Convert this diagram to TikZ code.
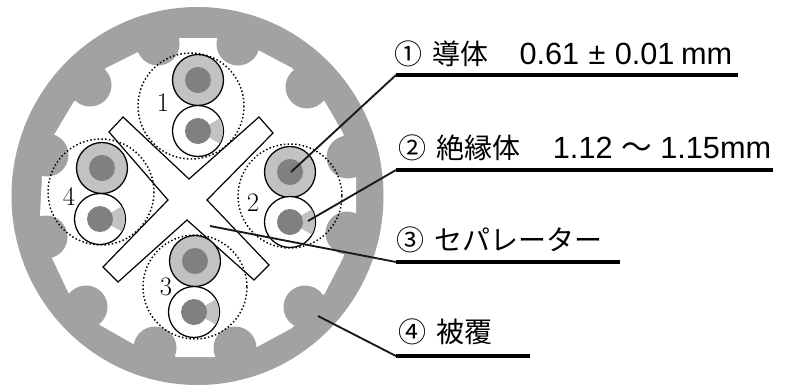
\documentclass[tikz,border=0pt]{standalone}
\usepackage{fontspec}
\newfontfamily\latin{Liberation Sans}
\newfontfamily\cjk{Noto Sans CJK JP}
\usepackage{tikz}
\usetikzlibrary{calc,positioning}

\definecolor{sheathgray}{HTML}{A2A2A2}
\definecolor{ringgray}{HTML}{C2C2C2}
\definecolor{coregray}{HTML}{808080}

\begin{document}
\begin{tikzpicture}[x=.75pt,y=-.75pt,
rim/.style = {draw=black, line width=.95pt},
pairline/.style = {draw=black, line width=1.1pt, dash pattern=on 1.1pt off 1.7pt},
line/.style = {draw=black!90, line width=1.4pt},
rule/.style = {draw=black, line width=3.4pt},
caption/.style = {anchor=base west, inner sep=0pt, font=\fontsize{21}{21}\selectfont\cjk},
pairno/.style = {inner sep=0pt, font=\fontsize{20}{20}\selectfont, text=black}]

\useasboundingbox (0,0) rectangle (789,390);

% sheath with its ribs
\fill[sheathgray] (197.5,196) ellipse [x radius=186, y radius=189];
\fill[white] (180,38) -- (217,38) -- (258,50) -- (292,68) -- (325,102) -- (343,133) -- (356,177)
	-- (356,215) -- (343,258) -- (325,293) -- (292,328) -- (257,347) -- (215,357) -- (177,357)
	-- (135,345) -- (100,325) -- (68,292) -- (52,258) -- (40,215) -- (42,177) -- (54,135)
	-- (73,103) -- (106,68) -- (138,52) -- cycle;
\foreach \x/\y in {158/44,238/44,307/87,348/157,347/233,305/307,235/348,155/348,86/307,46/237,47/155,90/85}
	\fill[sheathgray] (\x,\y) circle (21.5);

% separator
\filldraw[fill=white, draw=black, line width=.9pt] (123,117) -- (189,179) -- (259,117) -- (273,133)
	-- (207,200) -- (269,265) -- (254,280) -- (187,220) -- (118,282) -- (103,267) -- (168,200)
	-- (109,132) -- cycle;

% twisted pairs
\foreach \px/\py/\pr in {191/106/53,290/196/52,195/287/52,101/192/53}
	\path[pairline] (\px,\py) circle (\pr);
\foreach \ux/\uy/\lx/\ly in {198/80/198/131,290/172/290/222,195/261/194/312,102/168/100/219}{
	\filldraw[rim, fill=ringgray] (\ux,\uy) circle (25.5);
	\fill[coregray] (\ux,\uy) circle (13);
	\filldraw[rim, fill=white] (\lx,\ly) circle (25.5);
	\fill[ringgray] (\lx,\ly) -- ++(-30:25) arc[start angle=-30, end angle=30, radius=25] -- cycle;
	\fill[coregray] (\lx,\ly) circle (13);
}

\node[pairno] (no1) at (163,103) {1};
\node[pairno] (no2) at (253,203) {2};
\node[pairno] (no3) at (166,287) {3};
\node[pairno] (no4) at (69,197) {4};

% captions
\node[caption] (conductor) at (394,64) {①\hspace{8pt}導体\hspace{23pt}{\fontsize{23}{23}\selectfont\latin 0.61\hspace{7pt}±\hspace{7pt}0.01\hspace{5pt}mm}};
\node[caption] (insulation) at (398,158) {②\hspace{8pt}絶縁体\hspace{24pt}{\fontsize{23}{23}\selectfont\latin 1.12 {\cjk ～} 1.15mm}};
\node[caption] (separator) at (396,250) {③\hspace{8pt}セパレーター};
\node[caption] (jacket) at (398,342) {④\hspace{8pt}被覆};

\coordinate (rule1) at (396,75);
\coordinate (rule2) at (396,170);
\coordinate (rule3) at (396,262);
\coordinate (rule4) at (396,356);
\coordinate (end1) at (738,75);
\coordinate (end2) at (773,170);
\coordinate (end3) at (620,262);
\coordinate (end4) at (530,356);
\coordinate (conductorpt) at (291,172);
\coordinate (insulationpt) at (308,221);
\coordinate (separatorpt) at (210,226);
\coordinate (jacketpt) at (318,316);

\begin{scope}[every path/.style=line]
\path (conductorpt) -- (rule1);
\path (insulationpt) -- (rule2);
\path (separatorpt) -- (rule3);
\path (jacketpt) -- (rule4);
\end{scope}
\foreach \n in {1,2,3,4}
	\path[rule] (rule\n) -- (end\n);

\end{tikzpicture}
\end{document}
